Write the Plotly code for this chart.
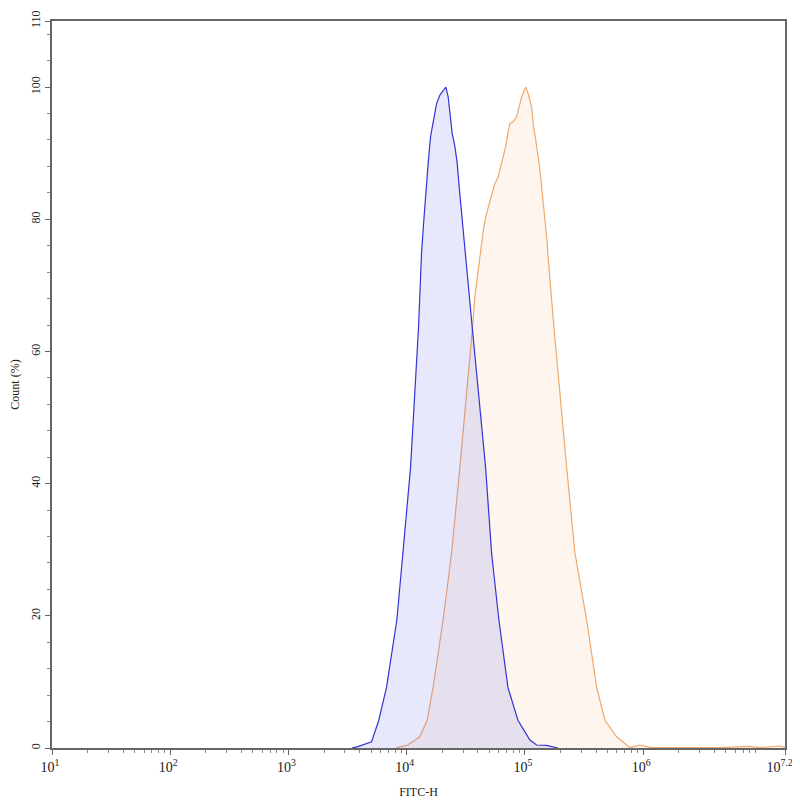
import plotly.graph_objects as go

# histogram outlines (FITC-H value, count %)
blue_x = [3436, 3864, 5047, 5808, 6760, 8260, 9290, 10790, 12600, 12920, 13360, 13970,
          14520, 15200, 15920, 16550, 17900, 19090, 21450, 22440, 23500, 24260, 25580,
          26750, 27800, 29120, 30470, 32110, 33800, 35820, 46480, 52260, 60230, 71800,
          87300, 110300, 125600, 152500, 190200]
blue_y = [0, 0.2, 0.95, 4.2, 9.2, 19.4, 29.5, 42.5, 63.7, 69.8, 74.9, 79.9,
          84.4, 88.5, 92.5, 94.0, 97.5, 98.8, 100, 98.5, 95.0, 93.0, 91.0,
          88.5, 84.9, 80.9, 76.4, 72.3, 67.8, 63.7, 42.5, 29.5, 19.4, 9.2,
          4.2, 1.2, 0.45, 0.4, 0]

orange_x = [8200, 10230, 12920, 14890, 16740, 20330, 23970, 28190, 36070, 37740, 40260,
            42990, 44950, 47410, 52260, 55720, 59430, 64260, 68690, 72270, 74650, 79600,
            85100, 93800, 101900, 106600, 114000, 117500, 123900, 129500, 133900, 138400,
            144800, 152700, 160400, 168200, 175900, 225400, 265000, 332600, 404400,
            475300, 597000, 773500, 939000, 1140000, 2630000, 4450000, 8000000, 9700000,
            14400000, 15850000]
orange_y = [0.05, 0.45, 1.7, 4.2, 9.2, 19.4, 29.5, 42.5, 63.7, 68.3, 72.3,
            75.9, 78.9, 80.9, 83.4, 85.4, 86.4, 89.0, 91.0, 93.3, 94.5, 94.8,
            95.5, 98.5, 100, 99.0, 97.0, 94.5, 92.0, 89.5, 87.5, 84.9,
            82.4, 77.4, 72.3, 67.3, 63.7, 42.5, 29.5, 19.4, 9.2,
            4.2, 1.7, 0.05, 0.45, 0.1, 0.1, 0.05, 0.25, 0.05,
            0.3, 0.1]

decades = [1, 2, 3, 4, 5, 6, 7.2]
y_ticks = [0, 20, 40, 60, 80, 100, 110]

fig = go.Figure()

fig.add_trace(go.Scatter(x=orange_x, y=orange_y, mode='lines', fill='tozeroy',
                         line=dict(color='#f0a86c', width=1.2),
                         fillcolor='rgba(240,160,90,0.1)', showlegend=False))
fig.add_trace(go.Scatter(x=blue_x, y=blue_y, mode='lines', fill='tozeroy',
                         line=dict(color='#3434d4', width=1.2),
                         fillcolor='rgba(90,90,240,0.14)', showlegend=False))

minor_x = [10 ** d * k for d in range(1, 7) for k in range(2, 10)]
minor_x = [v for v in minor_x if v < 10 ** 7.2]

x_labels = ['10<sup>%s</sup>' % (int(d) if d == int(d) else d) for d in decades]
# last label sits at the right edge of the page, nudge it inwards
x_labels[-1] += '\u00a0\u00a0'

font = dict(family='Liberation Serif, Times New Roman, serif', size=13, color='#222')

# page body adds an 8px offset, so the figure is a bit smaller than the window
fig.update_layout(
    width=792, height=792,
    margin=dict(l=44, r=15, t=13, b=52),
    plot_bgcolor='white', paper_bgcolor='white',
    font=font,
    xaxis=dict(type='log', range=[1, 7.2], automargin=False,
               tickvals=[10 ** d for d in decades],
               ticktext=x_labels, tickfont=dict(size=14),
               ticklabelshift=-2, ticklabeloverflow='allow',
               ticks='outside', ticklen=5, tickcolor='#666',
               showline=True, linecolor='#666', linewidth=1.5, mirror=True,
               showgrid=False, zeroline=False,
               minor=dict(tickvals=minor_x, ticks='outside', ticklen=3, tickcolor='#888'),
               title=dict(text='FITC-H', font=dict(size=12), standoff=14)),
    yaxis=dict(range=[0, 110], tickvals=y_ticks, tickangle=-90, automargin=False,
               tickfont=dict(size=12),
               ticks='outside', ticklen=5, tickcolor='#666',
               showline=True, linecolor='#666', linewidth=1.5, mirror=True,
               showgrid=False, zeroline=False,
               minor=dict(dtick=4, tick0=0, ticks='outside', ticklen=3, tickcolor='#888'),
               title=dict(text='Count (%)', font=dict(size=12), standoff=8)),
)

fig.write_html("out.html")
